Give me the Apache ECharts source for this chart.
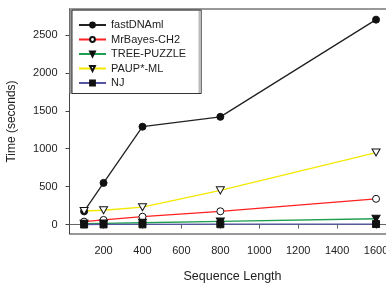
<!DOCTYPE html>
<html>
<head>
<meta charset="utf-8">
<script src="https://cdn.jsdelivr.net/npm/echarts@6/dist/echarts.min.js"></script>
<style>
html,body{margin:0;padding:0;background:#fff;}
#chart{width:386px;height:285px;}
</style>
</head>
<body>
<div id="chart"></div>
<script>
var seqLength = [100, 200, 400, 800, 1600];
var fastDNAml = [175, 550, 1290, 1420, 2700];
var mrBayes = [40, 62, 105, 176, 340];
var treePuzzle = [12, 16, 25, 42, 78];
var paupML = [180, 190, 230, 452, 950];
var nj = [2, 3, 4, 6, 8];
var xTicks = [200, 400, 600, 800, 1000, 1200, 1400, 1600];
var yTicks = [0, 500, 1000, 1500, 2000, 2500];
var seriesNames = ['fastDNAml', 'MrBayes-CH2', 'TREE-PUZZLE', 'PAUP*-ML', 'NJ'];

function pairs(vals) {
  return seqLength.map(function (x, i) { return [x, vals[i]]; });
}
var downTri = 'path://M0,0 L10,0 L5,9 Z';
var font = 'Liberation Sans';
function plain(v) { return String(v); }

var chart = echarts.init(document.getElementById('chart'), null, {renderer: 'canvas'});
chart.setOption({
  animation: false,
  backgroundColor: '#fff',
  textStyle: {fontFamily: font},
  grid: {left: 69.5, top: 9, right: -9.5, bottom: 51, show: true, borderColor: '#333', borderWidth: 1,
         containLabel: false, outerBoundsMode: 'none'},
  legend: {
    orient: 'vertical', left: 72, top: 10,
    padding: [9.5, 15, 5, 6],
    itemWidth: 27, itemHeight: 6, itemGap: 3.5,
    backgroundColor: '#fff', borderColor: '#333', borderWidth: 1,
    shadowColor: '#999', shadowOffsetX: -2, shadowOffsetY: 0, shadowBlur: 0,
    textStyle: {fontFamily: font, fontSize: 11, color: '#222'},
    data: seriesNames
  },
  xAxis: {
    type: 'value', min: 25, max: 1700,
    name: 'Sequence Length', nameLocation: 'middle', nameGap: 36,
    nameTextStyle: {fontFamily: font, fontSize: 12.5, color: '#222'},
    axisLine: {show: true, lineStyle: {color: '#666', width: 1}},
    axisTick: {show: true, length: 4, customValues: xTicks, lineStyle: {color: '#666'}},
    axisLabel: {customValues: xTicks, formatter: plain, margin: 11, fontSize: 11, color: '#222', fontFamily: font},
    splitLine: {show: false}
  },
  yAxis: {
    type: 'value', min: -123, max: 2840,
    name: 'Time (seconds)', nameLocation: 'middle', nameGap: 52,
    nameTextStyle: {fontFamily: font, fontSize: 12, color: '#222'},
    axisLine: {show: true, lineStyle: {color: '#444', width: 1}},
    axisTick: {show: true, length: 4, customValues: yTicks, lineStyle: {color: '#444'}},
    axisLabel: {customValues: yTicks, formatter: plain, margin: 12, fontSize: 11, color: '#222', fontFamily: font},
    splitLine: {show: false}
  },
  series: [
    {name: seriesNames[0], type: 'line', data: pairs(fastDNAml), symbol: 'circle', symbolSize: 7,
     lineStyle: {color: '#222', width: 1.3}, itemStyle: {color: '#111', borderColor: '#111', borderWidth: 1}},
    {name: seriesNames[1], type: 'line', data: pairs(mrBayes), symbol: 'circle', symbolSize: 7,
     lineStyle: {color: '#ff2020', width: 1.3}, itemStyle: {color: '#fff', borderColor: '#111', borderWidth: 1}},
    {name: seriesNames[2], type: 'line', data: pairs(treePuzzle), symbol: downTri, symbolSize: [8, 7],
     lineStyle: {color: '#1f9e50', width: 1.3}, itemStyle: {color: '#111', borderColor: '#111', borderWidth: 1}},
    {name: seriesNames[3], type: 'line', data: pairs(paupML), symbol: downTri, symbolSize: [8, 7],
     lineStyle: {color: '#f5e800', width: 1.3}, itemStyle: {color: '#fff', borderColor: '#111', borderWidth: 1}},
    {name: seriesNames[4], type: 'line', data: pairs(nj), symbol: 'rect', symbolSize: 7,
     lineStyle: {color: '#5555a0', width: 1.3}, itemStyle: {color: '#111', borderColor: '#111', borderWidth: 1}}
  ]
});
</script>
</body>
</html>
